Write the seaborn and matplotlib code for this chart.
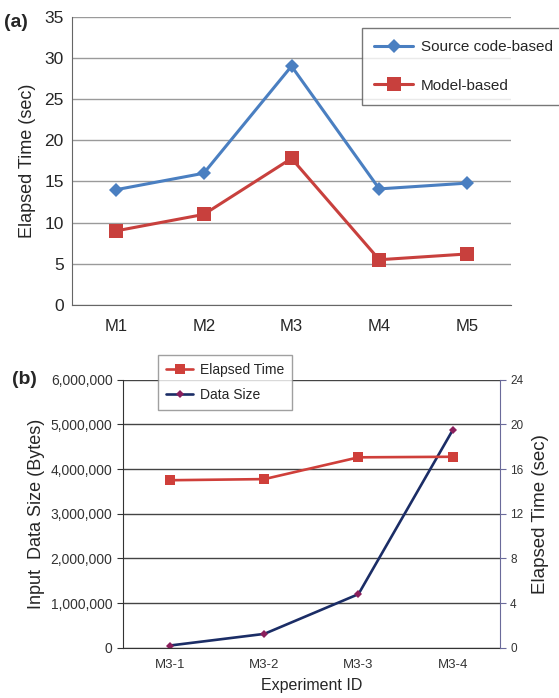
import numpy as np
import pandas as pd
import matplotlib
matplotlib.use("Agg")
import matplotlib.pyplot as plt
from matplotlib.ticker import FuncFormatter, FixedLocator
import seaborn as sns

# panel (a) data
models = ["M1", "M2", "M3", "M4", "M5"]
source_based = [14.0, 16.0, 29.0, 14.1, 14.8]
model_based = [9.0, 11.0, 17.8, 5.5, 6.2]

# panel (b) data
experiments = ["M3-1", "M3-2", "M3-3", "M3-4"]
data_size = [50000, 310000, 1200000, 4870000]
elapsed_time = [15.0, 15.1, 17.05, 17.1]

sns.set_style("white")
plt.rcParams["font.family"] = ["Liberation Sans", "DejaVu Sans"]

fig = plt.figure(figsize=(5.59, 6.98), dpi=100)

# ---------- (a) ----------
ax1 = fig.add_axes([0.129, 0.563, 0.785, 0.413])
df_a = pd.DataFrame({
    "model": models * 2,
    "time": source_based + model_based,
    "kind": ["Source code-based"] * 5 + ["Model-based"] * 5,
})
sns.lineplot(data=df_a, x="model", y="time", hue="kind", style="kind",
             markers={"Source code-based": "D", "Model-based": "s"},
             dashes=False, sort=False,
             palette={"Source code-based": "#4a7fc1", "Model-based": "#c8403d"},
             linewidth=2.2, markeredgewidth=0, ax=ax1)
for ln, ms in zip(ax1.lines, [7.5, 10]):
    ln.set_markersize(ms)
ax1.set_xlim(-0.5, 4.5)
ax1.set_ylim(0, 35)
ax1.set_yticks(np.arange(0, 36, 5))
ax1.grid(axis="y", color="#9a9a9a", linewidth=1)
ax1.set_axisbelow(True)
for s in ["top", "right"]:
    ax1.spines[s].set_visible(False)
for s in ["left", "bottom"]:
    ax1.spines[s].set_color("#666666")
ax1.tick_params(axis="x", which="major", length=0, labelsize=12, pad=10)
ax1.xaxis.set_minor_locator(FixedLocator([0.5, 1.5, 2.5, 3.5, 4.5]))
ax1.tick_params(axis="x", which="minor", length=4, direction="in", color="#666666")
ax1.tick_params(axis="y", length=0, labelsize=12.5, pad=6)
ax1.set_xlabel("")
ax1.set_ylabel("Elapsed Time (sec)", fontsize=13, labelpad=6)
h, l = ax1.get_legend_handles_labels()
for hh, ms in zip(h, [7, 10]):
    hh.set_markersize(ms)
leg1 = ax1.legend(h, l, loc="upper left", bbox_to_anchor=(0.6476, 0.960),
                  bbox_transform=fig.transFigure, fontsize=11, frameon=True,
                  fancybox=False, edgecolor="#555555", labelspacing=1.6,
                  borderpad=0.8, handlelength=2.55, handletextpad=0.5,
                  borderaxespad=0)
leg1.get_frame().set_linewidth(1)
fig.text(0.008, 0.961, "(a)", fontsize=14, fontweight="bold", va="baseline")

# ---------- (b) ----------
ax2 = fig.add_axes([0.220, 0.072, 0.674, 0.384])
ax3 = ax2.twinx()
sns.lineplot(x=experiments, y=data_size, color="#1b2d66", marker="D",
             markersize=4.5, markerfacecolor="#8a1f5c", markeredgewidth=0,
             linewidth=1.9, sort=False, ax=ax2, label="Data Size", legend=False)
sns.lineplot(x=experiments, y=elapsed_time, color="#cf3f3a", marker="s",
             markersize=7, markeredgewidth=0, linewidth=1.9, sort=False,
             ax=ax3, label="Elapsed Time", legend=False)
ax2.set_xlim(-0.5, 3.5)
ax2.set_ylim(0, 6000000)
ax2.set_yticks(np.arange(0, 6000001, 1000000))
ax2.yaxis.set_major_formatter(FuncFormatter(lambda v, p: f"{int(v):,}"))
ax3.set_ylim(0, 24)
ax3.set_yticks(np.arange(0, 25, 4))
ax2.grid(axis="y", color="#444444", linewidth=1)
ax3.grid(False)
ax2.set_axisbelow(True)
ax2.spines["top"].set_visible(False)
ax3.spines["top"].set_visible(False)
ax3.spines["left"].set_visible(False)
ax3.spines["bottom"].set_visible(False)
ax2.spines["right"].set_visible(False)
ax2.spines["left"].set_color("#333333")
ax2.spines["bottom"].set_color("#333333")
ax3.spines["right"].set_color("#6a6a9a")
ax2.tick_params(axis="x", which="major", length=0, labelsize=9.5, pad=8, colors="#333333")
ax2.xaxis.set_minor_locator(FixedLocator([0.5, 1.5, 2.5, 3.5]))
ax2.tick_params(axis="x", which="minor", length=4, direction="out", color="#333333")
ax2.tick_params(axis="y", length=4, direction="out", labelsize=10, color="#333333",
                labelcolor="#333333")
ax3.tick_params(axis="y", length=4, direction="out", labelsize=8.5, colors="#6a6a9a",
                labelcolor="#333333")
ax2.set_xlabel("Experiment ID", fontsize=11.5, labelpad=5)
ax2.set_ylabel("Input  Data Size (Bytes)", fontsize=13, labelpad=4)
ax3.set_ylabel("Elapsed Time (sec)", fontsize=13.5, labelpad=6)

h2, l2 = ax2.get_legend_handles_labels()
h3, l3 = ax3.get_legend_handles_labels()
leg2 = ax3.legend(h3 + h2, l3 + l2, loc="upper left", bbox_to_anchor=(0.2826, 0.4914),
                  bbox_transform=fig.transFigure, fontsize=10, frameon=True,
                  fancybox=False, edgecolor="#888888", labelspacing=0.75,
                  borderpad=0.6, handlelength=1.9, handletextpad=0.5,
                  borderaxespad=0)
leg2.get_frame().set_linewidth(1)
fig.text(0.021, 0.450, "(b)", fontsize=14, fontweight="bold", va="baseline")

fig.savefig("out.png", dpi=100)
